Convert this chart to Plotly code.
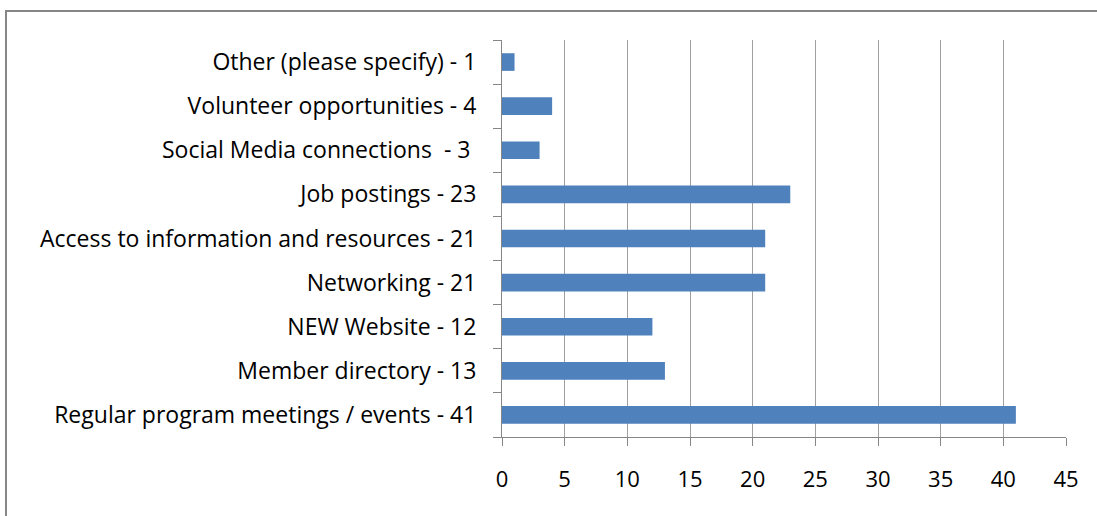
import plotly.graph_objects as go

categories = [
    "Regular program meetings / events - 41",
    "Member directory - 13",
    "NEW Website - 12",
    "Networking - 21",
    "Access to information and resources - 21",
    "Job postings - 23",
    "Social Media connections  - 3 ",
    "Volunteer opportunities - 4",
    "Other (please specify) - 1",
]
values = [41, 13, 12, 21, 21, 23, 3, 4, 1]
x_ticks = [0, 5, 10, 15, 20, 25, 30, 35, 40, 45]

FONT = "Open Sans, sans-serif"

fig = go.Figure(
    go.Bar(
        x=values,
        y=categories,
        orientation="h",
        marker=dict(color="#4F81BD", line=dict(width=0)),
        hoverinfo="x+y",
    )
)

L, R, T, B = 502, 31, 40, 79
W, H = 1097, 516
pw = W - L - R
ph = H - T - B

fig.update_layout(
    width=W,
    height=H,
    margin=dict(l=L, r=R, t=T, b=B, autoexpand=False),
    paper_bgcolor="white",
    plot_bgcolor="white",
    bargap=0.6,
    showlegend=False,
    font=dict(family=FONT, size=22, color="black"),
    xaxis=dict(
        range=[0, 45],
        tickvals=x_ticks,
        showgrid=True,
        gridcolor="#A0A0A0",
        gridwidth=1,
        zeroline=False,
        showline=True,
        linecolor="#868686",
        linewidth=1,
        ticks="outside",
        ticklen=8,
        tickcolor="#868686",
        ticklabelstandoff=15,
        automargin=False,
        tickfont=dict(family=FONT, size=22, color="black"),
    ),
    yaxis=dict(
        showgrid=False,
        zeroline=False,
        showline=True,
        linecolor="#868686",
        linewidth=1,
        ticks="outside",
        tickson="boundaries",
        ticklen=8,
        tickcolor="#868686",
        ticklabelstandoff=20,
        automargin=False,
        tickfont=dict(family=FONT, size=23, color="black"),
    ),
    shapes=[
        dict(
            type="rect",
            xref="paper",
            yref="paper",
            x0=(6 - L) / pw,
            x1=(W + 20 - L) / pw,
            y0=-(H + 20 - (T + ph)) / ph,
            y1=(T + ph - 11) / ph,
            line=dict(color="#868686", width=2),
            fillcolor="rgba(0,0,0,0)",
            layer="below",
        )
    ],
)

fig.write_html(
    "out.html",
    config={"displayModeBar": False},
    post_script="document.body.style.margin='0';document.body.style.overflow='hidden';",
)
